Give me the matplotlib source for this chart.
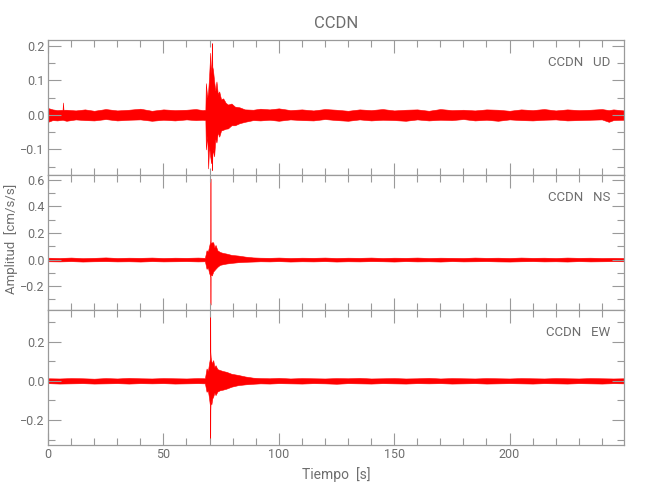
import matplotlib
matplotlib.use('Agg')
import matplotlib.pyplot as plt
import numpy as np
from matplotlib.ticker import MultipleLocator, FuncFormatter

# envelopes (time in s, amplitude in cm/s/s)

ud_t  = [0, 2, 4, 6.3, 6.5, 6.7, 8, 12, 16, 20, 25, 30, 35, 40, 45, 50, 55, 60, 64, 67,
         68.2, 68.4, 69.0, 69.4, 69.8, 70.3, 70.7, 71.0, 71.1, 71.2, 71.5, 72.0, 72.5, 73.0,
         73.6, 74.2, 75.0, 75.9, 77, 78, 79.5, 81, 83, 85.3, 88.9, 92, 96, 100, 105, 110,
         115, 120, 125, 130, 135, 140, 145, 150, 155, 160, 165, 170, 175, 180, 185, 190,
         195, 200, 205, 210, 215, 220, 225, 230, 235, 240, 243, 245, 249.6]
ud_hi = [0.020, 0.016, 0.014, 0.015, 0.036, 0.015, 0.015, 0.013, 0.016, 0.012, 0.017, 0.013,
         0.015, 0.018, 0.012, 0.016, 0.014, 0.015, 0.017, 0.014,
         0.015, 0.092, 0.050, 0.068, 0.110, 0.180, 0.120, 0.150, 0.208, 0.140, 0.130, 0.097,
         0.070, 0.097, 0.060, 0.068, 0.045, 0.048, 0.035, 0.030, 0.033, 0.024, 0.022, 0.016,
         0.015, 0.018, 0.016, 0.019, 0.014, 0.016, 0.013, 0.017, 0.015, 0.012, 0.016, 0.014,
         0.017, 0.013, 0.015, 0.016, 0.012, 0.017, 0.014, 0.015, 0.013, 0.016, 0.015, 0.012,
         0.016, 0.014, 0.017, 0.013, 0.016, 0.014, 0.015, 0.017, 0.014, 0.016, 0.013]
ud_lo = [-0.020, -0.015, -0.016, -0.014, -0.014, -0.015, -0.017, -0.013, -0.015, -0.016,
         -0.012, -0.016, -0.014, -0.013, -0.017, -0.014, -0.016, -0.013, -0.015, -0.014,
         -0.015, -0.100, -0.060, -0.155, -0.090, -0.120, -0.140, -0.110, -0.160, -0.120,
         -0.100, -0.120, -0.070, -0.080, -0.050, -0.063, -0.045, -0.043, -0.040, -0.039,
         -0.030, -0.030, -0.024, -0.020, -0.015, -0.016, -0.014, -0.017, -0.013, -0.015,
         -0.016, -0.012, -0.015, -0.017, -0.013, -0.016, -0.014, -0.015, -0.017, -0.013,
         -0.016, -0.014, -0.015, -0.012, -0.016, -0.014, -0.017, -0.013, -0.015, -0.016,
         -0.014, -0.013, -0.016, -0.015, -0.014, -0.013, -0.020, -0.015, -0.014]

ns_t  = [0, 5, 10, 15, 20, 25, 30, 35, 40, 45, 50, 55, 60, 65, 68.0,
         68.7, 69.3, 69.8, 70.2, 70.35, 70.4, 70.45, 70.6, 71.0, 71.6, 72.1, 72.6, 73.4,
         74.5, 75.8, 77.3, 79.5, 82.4, 85.5, 88.9, 92, 96, 100, 105, 110, 115, 120, 125,
         130, 135, 140, 145, 150, 155, 160, 165, 170, 175, 180, 185, 190, 195, 200, 205,
         210, 215, 220, 225, 230, 235, 240, 245, 249.6]
ns_hi = [0.014, 0.012, 0.015, 0.011, 0.013, 0.016, 0.012, 0.014, 0.013, 0.015, 0.012,
         0.014, 0.013, 0.015, 0.013,
         0.070, 0.060, 0.100, 0.130, 0.140, 0.610, 0.140, 0.120, 0.130, 0.130, 0.090, 0.110,
         0.070, 0.057, 0.050, 0.045, 0.035, 0.030, 0.022, 0.016, 0.014, 0.013, 0.015, 0.012,
         0.014, 0.013, 0.015, 0.012, 0.014, 0.013, 0.015, 0.012, 0.014, 0.013, 0.015, 0.012,
         0.014, 0.013, 0.012, 0.015, 0.013, 0.014, 0.012, 0.015, 0.013, 0.014, 0.012, 0.015,
         0.013, 0.014, 0.012, 0.013, 0.012]
ns_lo = [-0.013, -0.014, -0.012, -0.015, -0.013, -0.012, -0.014, -0.013, -0.015, -0.012,
         -0.014, -0.013, -0.012, -0.014, -0.013,
         -0.070, -0.060, -0.100, -0.120, -0.130, -0.340, -0.120, -0.110, -0.120, -0.090,
         -0.080, -0.070, -0.055, -0.040, -0.035, -0.030, -0.025, -0.020, -0.017, -0.015,
         -0.013, -0.014, -0.012, -0.015, -0.013, -0.014, -0.012, -0.015, -0.013, -0.014,
         -0.012, -0.013, -0.015, -0.012, -0.014, -0.013, -0.015, -0.012, -0.014, -0.013,
         -0.012, -0.014, -0.015, -0.013, -0.012, -0.014, -0.013, -0.015, -0.012, -0.014,
         -0.013, -0.012, -0.013]

ew_t  = [0, 5, 10, 15, 20, 25, 30, 35, 40, 45, 50, 55, 60, 65, 68.0,
         68.7, 69.3, 69.8, 70.1, 70.25, 70.3, 70.35, 70.5, 70.8, 71.2, 71.6, 72.1, 72.6,
         73.4, 74.5, 75.8, 77.3, 79.5, 82.4, 85.5, 88.9, 92, 96, 100, 105, 110, 115, 120,
         125, 130, 135, 140, 145, 150, 155, 160, 165, 170, 175, 180, 185, 190, 195, 200,
         205, 210, 215, 220, 225, 230, 235, 240, 245, 249.6]
ew_hi = [0.013, 0.012, 0.014, 0.013, 0.011, 0.014, 0.012, 0.015, 0.013, 0.012, 0.014,
         0.013, 0.012, 0.014, 0.013,
         0.063, 0.050, 0.090, 0.110, 0.150, 0.345, 0.150, 0.120, 0.100, 0.090, 0.106, 0.070,
         0.080, 0.060, 0.055, 0.050, 0.046, 0.036, 0.030, 0.022, 0.016, 0.014, 0.013, 0.015,
         0.012, 0.014, 0.013, 0.012, 0.014, 0.013, 0.015, 0.012, 0.013, 0.014, 0.012, 0.013,
         0.015, 0.012, 0.014, 0.013, 0.012, 0.014, 0.013, 0.012, 0.014, 0.013, 0.012, 0.014,
         0.013, 0.012, 0.014, 0.013, 0.012, 0.013]
ew_lo = [-0.012, -0.014, -0.013, -0.012, -0.014, -0.013, -0.012, -0.014, -0.012, -0.013,
         -0.012, -0.014, -0.013, -0.012, -0.013,
         -0.056, -0.050, -0.090, -0.120, -0.150, -0.300, -0.150, -0.100, -0.120, -0.090,
         -0.080, -0.060, -0.073, -0.055, -0.048, -0.045, -0.040, -0.030, -0.022, -0.018,
         -0.015, -0.013, -0.014, -0.012, -0.013, -0.014, -0.012, -0.013, -0.015, -0.012,
         -0.013, -0.014, -0.012, -0.013, -0.014, -0.012, -0.013, -0.012, -0.014, -0.013,
         -0.012, -0.014, -0.013, -0.012, -0.013, -0.014, -0.012, -0.013, -0.014, -0.012,
         -0.013, -0.014, -0.012, -0.013]

station = 'CCDN'
componentes = ['UD', 'NS', 'EW']
ylims = [(-0.174, 0.217), (-0.38, 0.637), (-0.328, 0.362)]
ymajor = [0.1, 0.2, 0.2]
yminor = [0.05, 0.1, 0.1]
tmax = 249.6

gris = '#6e6e6e'
eje = '#9a9a9a'
plt.rcParams['font.family'] = ['Roboto', 'DejaVu Sans']
plt.rcParams['font.size'] = 9
plt.rcParams['text.color'] = gris

fig = plt.figure(figsize=(6.5, 5.0), dpi=100)
left, width, h = 48/650., 576/650., 0.27
bottoms = [0.65, 0.38, 0.11]

datos = [(ud_t, ud_hi, ud_lo), (ns_t, ns_hi, ns_lo), (ew_t, ew_hi, ew_lo)]

fmt = FuncFormatter(lambda v, p: ('%.1f' % v).replace('-', '\u2212'))

axes = []
for i in range(3):
    ax = fig.add_axes([left, bottoms[i], width, h])
    t, hi, lo = datos[i]
    ax.fill_between(t, lo, hi, color='red', lw=0.4, edgecolor='red')
    ax.set_xlim(0, tmax)
    ax.set_ylim(*ylims[i])
    ax.xaxis.set_major_locator(MultipleLocator(50))
    ax.xaxis.set_minor_locator(MultipleLocator(10))
    ax.yaxis.set_major_locator(MultipleLocator(ymajor[i]))
    ax.yaxis.set_minor_locator(MultipleLocator(yminor[i]))
    ax.yaxis.set_major_formatter(fmt)
    ax.tick_params(which='both', direction='in', top=True, right=True,
                   color=eje, labelcolor=gris, width=0.8, labelsize=9, pad=2.5)
    ax.tick_params(which='major', length=9)
    ax.tick_params(which='minor', length=5)
    for s in ax.spines.values():
        s.set_color(eje)
        s.set_linewidth(0.9)
    if i < 2:
        ax.tick_params(labelbottom=False)
    ax.text(0.976, 0.837, station + '   ' + componentes[i], transform=ax.transAxes,
            ha='right', va='center', fontsize=9.5, color=gris)
    axes.append(ax)

axes[0].set_title(station, fontsize=12, color=gris, pad=9)
axes[2].set_xlabel('Tiempo  [s]', color=gris, fontsize=10, labelpad=4)
fig.text(0.017, 0.522, 'Amplitud  [cm/s/s]', rotation=90, ha='center', va='center',
         fontsize=9.5, color=gris)

plt.savefig('out.png', dpi=100)
